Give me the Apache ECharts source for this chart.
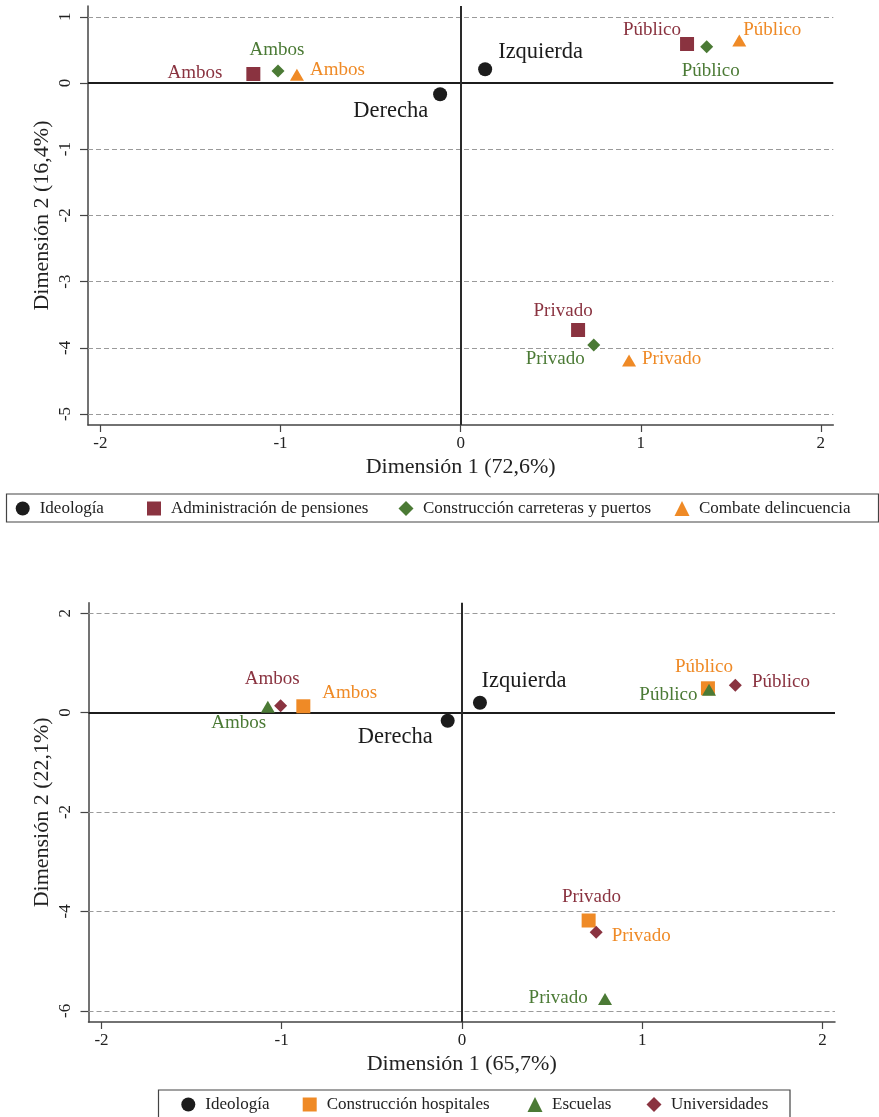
<!DOCTYPE html>
<html><head><meta charset="utf-8">
<script src="https://cdn.jsdelivr.net/npm/echarts@6/dist/echarts.min.js"></script>
<style>html,body{margin:0;padding:0;background:#fff}#c{width:879px;height:1117px}</style>
</head><body><div id="c"></div>
<script>
// ---------------- DATA ----------------
const pointNames = ['Ambos', 'Público', 'Privado'];
const ideologyNames = ['Izquierda', 'Derecha'];

// Top chart
const topTitleX = 'Dimensión 1 (72,6%)';
const topTitleY = 'Dimensión 2 (16,4%)';
const topXTicks = [-2, -1, 0, 1, 2];
const topYTicks = [-5, -4, -3, -2, -1, 0, 1];
const topIdeologia = [[0.136, 0.207], [-0.114, -0.171]];
const topPensiones = [[-1.151, 0.136], [1.257, 0.589], [0.652, -3.731]];
const topCarreteras = [[-1.014, 0.181], [1.366, 0.548], [0.739, -3.958]];
const topDelincuencia = [[-0.909, 0.124], [1.547, 0.642], [0.935, -4.192]];

// Bottom chart
const botTitleX = 'Dimensión 1 (65,7%)';
const botTitleY = 'Dimensión 2 (22,1%)';
const botXTicks = [-2, -1, 0, 1, 2];
const botYTicks = [-6, -4, -2, 0, 2];
const botIdeologia = [[0.100, 0.199], [-0.079, -0.163]];
const botHospitales = [[-0.880, 0.127], [1.365, 0.489], [0.703, -4.183]];
const botEscuelas = [[-1.077, 0.117], [1.371, 0.461], [0.794, -5.763]];
const botUniversidades = [[-1.006, 0.139], [1.517, 0.549], [0.745, -4.421]];

// ---------------- STYLE ----------------
const FONT = '"Liberation Serif", "DejaVu Serif", serif';
const C_BLACK = '#1c1c1c', C_MAROON = '#8a3340', C_GREEN = '#4b7a35', C_ORANGE = '#ef8a26';
const TXT = '#222';

// label placements [dx, dy, align] relative to marker centre
const LP = {
  topIdeo: [[13, -17, 'left'], [-12, 17, 'right']],
  topPen: [[-31, -1, 'right'], [-6, -14, 'right'], [-15, -19, 'center']],
  topCar: [[-1, -21, 'center'], [4, 24.5, 'center'], [-9, 14, 'right']],
  topDel: [[13, -5, 'left'], [4, -10.5, 'left'], [13, -1.5, 'left']],
  botIdeo: [[1.5, -22, 'left'], [-15, 16.5, 'right']],
  botHos: [[19, -13, 'left'], [-4, -21, 'center'], [23, 16, 'left']],
  botEsc: [[-1.7, 16.7, 'right'], [-11.6, 5.6, 'right'], [-17.3, -0.7, 'right']],
  botUni: [[-8.5, -27, 'center'], [16.6, -3, 'left'], [-4.7, -35, 'center']]
};

function mkData(vals, names, placements, color, fontSize) {
  return vals.map((v, i) => ({
    value: v,
    name: names[i],
    label: {
      show: true,
      formatter: names[i],
      position: ['50%', '50%'],
      align: placements[i][2],
      verticalAlign: 'middle',
      offset: [placements[i][0], placements[i][1]],
      color: color,
      fontFamily: FONT,
      fontSize: fontSize
    }
  }));
}

function mkSeries(name, gi, symbol, size, color, vals, names, placements, fs) {
  return {
    name: name, type: 'scatter', xAxisIndex: gi, yAxisIndex: gi,
    symbol: symbol, symbolSize: size, z: 5,
    itemStyle: { color: color, opacity: 1 },
    data: mkData(vals, names, placements, color, fs),
    emphasis: { disabled: true }
  };
}

function gridLines(gi, yTicks) {
  const data = yTicks.filter(v => v !== 0).map(v => ({
    yAxis: v, lineStyle: { color: '#9a9a9a', width: 1, type: [5, 3] }
  }));
  data.push({ yAxis: 0, lineStyle: { color: C_BLACK, width: 2.2, type: 'solid' } });
  data.push({ xAxis: 0, lineStyle: { color: '#2a2a2a', width: 2, type: 'solid' } });
  return {
    name: '_grid' + gi, type: 'line', xAxisIndex: gi, yAxisIndex: gi, data: [], z: 1,
    markLine: { silent: true, symbol: 'none', label: { show: false }, animation: false, data: data }
  };
}

function xAxisCfg(gi, ticks, title, min, max) {
  return {
    gridIndex: gi, type: 'value', min: min, max: max,
    axisLine: { show: true, onZero: false, lineStyle: { color: '#444', width: 1.5 } },
    axisTick: { show: true, customValues: ticks, length: 7, lineStyle: { color: '#444', width: 1.2 } },
    axisLabel: { show: true, customValues: ticks, margin: 10, fontFamily: FONT, fontSize: 17, color: TXT },
    splitLine: { show: false },
    name: title, nameLocation: 'middle', nameGap: 31,
    nameTextStyle: { fontFamily: FONT, fontSize: 22, color: TXT }
  };
}
function yAxisCfg(gi, ticks, title, min, max) {
  return {
    gridIndex: gi, type: 'value', min: min, max: max,
    axisLine: { show: true, onZero: false, lineStyle: { color: '#444', width: 1.5 } },
    axisTick: { show: true, customValues: ticks, length: 8, lineStyle: { color: '#444', width: 1.2 } },
    axisLabel: { show: true, customValues: ticks, rotate: 90, margin: 14, fontFamily: FONT, fontSize: 17, color: TXT },
    splitLine: { show: false },
    name: title, nameLocation: 'middle', nameRotate: 90, nameGap: 35, nameMoveOverlap: false,
    nameTextStyle: { fontFamily: FONT, fontSize: 22, color: TXT }
  };
}

function legendItem(name, icon, iconCx, cy, iconSize) {
  return {
    show: true, left: iconCx - iconSize / 2, top: cy - 10, padding: 0,
    itemWidth: iconSize, itemHeight: iconSize, selectedMode: false,
    data: [{ name: name, icon: icon }],
    textStyle: { fontFamily: FONT, fontSize: 17, color: TXT, padding: [0, 0, 0, 17 - iconSize / 2 - 5] }
  };
}

const chart = echarts.init(document.getElementById('c'), null, { renderer: 'canvas' });
chart.setOption({
  animation: false,
  backgroundColor: '#fff',
  grid: [
    { left: 88, top: 6, width: 745.3, height: 419 },
    { left: 88.5, top: 602.7, width: 746.5, height: 419.3 }
  ],
  xAxis: [
    xAxisCfg(0, topXTicks, topTitleX, -2.069, 2.069),
    xAxisCfg(1, botXTicks, botTitleX, -2.072, 2.07)
  ],
  yAxis: [
    yAxisCfg(0, topYTicks, topTitleY, -5.166, 1.163),
    yAxisCfg(1, botYTicks, botTitleY, -6.225, 2.211)
  ],
  legend: [
    legendItem('Ideología', 'circle', 22.7, 510, 14),
    legendItem('Administración de pensiones', 'rect', 154, 510, 14),
    legendItem('Construcción carreteras y puertos', 'diamond', 406, 510, 15),
    legendItem('Combate delincuencia', 'triangle', 682, 510, 15),
    legendItem('Ideología', 'circle', 188.3, 1106, 14),
    legendItem('Construcción hospitales', 'rect', 309.7, 1106, 14),
    legendItem('Escuelas', 'triangle', 535, 1106, 15),
    legendItem('Universidades', 'diamond', 654, 1106, 15)
  ],
  graphic: [
    { type: 'rect', silent: true, shape: { x: 6.5, y: 494, width: 872, height: 28 },
      style: { fill: 'none', stroke: '#444', lineWidth: 1.2 } },
    { type: 'rect', silent: true, shape: { x: 158.5, y: 1090, width: 631.5, height: 30 },
      style: { fill: 'none', stroke: '#444', lineWidth: 1.2 } }
  ],
  series: [
    gridLines(0, topYTicks),
    gridLines(1, botYTicks),
    mkSeries('Ideología', 0, 'circle', 14, C_BLACK, topIdeologia, ideologyNames, LP.topIdeo, 22.5),
    mkSeries('Administración de pensiones', 0, 'rect', 14, C_MAROON, topPensiones, pointNames, LP.topPen, 19),
    mkSeries('Construcción carreteras y puertos', 0, 'diamond', 13, C_GREEN, topCarreteras, pointNames, LP.topCar, 19),
    mkSeries('Combate delincuencia', 0, 'triangle', [14, 12], C_ORANGE, topDelincuencia, pointNames, LP.topDel, 19),
    mkSeries('Ideología', 1, 'circle', 14, C_BLACK, botIdeologia, ideologyNames, LP.botIdeo, 22.5),
    mkSeries('Construcción hospitales', 1, 'rect', 14, C_ORANGE, botHospitales, pointNames, LP.botHos, 19),
    mkSeries('Escuelas', 1, 'triangle', [14, 12], C_GREEN, botEscuelas, pointNames, LP.botEsc, 19),
    mkSeries('Universidades', 1, 'diamond', 13, C_MAROON, botUniversidades, pointNames, LP.botUni, 19)
  ]
});
</script>
</body></html>
